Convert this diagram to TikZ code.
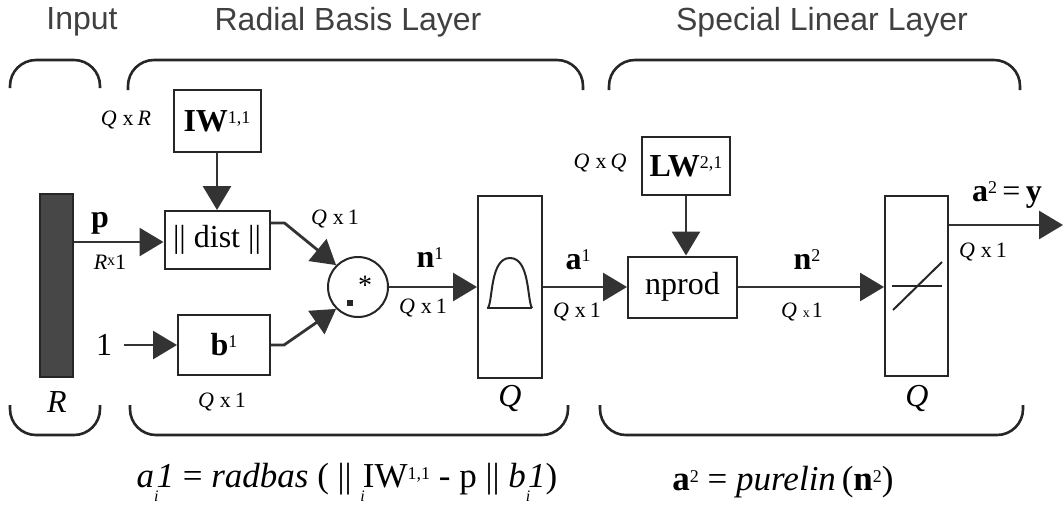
\documentclass[tikz,border=0pt]{standalone}
\usepackage{fontspec}
\setmainfont{Liberation Serif}
\newfontfamily\hdfont{Liberation Sans}
\usetikzlibrary{arrows.meta,calc}
\newcommand\mysup[1]{\raisebox{4pt}{\fontsize{9pt}{9pt}\selectfont #1}}
\newcommand\mysub[1]{\raisebox{-7pt}{\fontsize{8pt}{8pt}\selectfont\textit{#1}}}
\newcommand\dimlab[2]{\textit{#1}\hspace{3pt}x\hspace{2pt}#2}
\begin{document}
\begin{tikzpicture}[x=0.5pt,y=-0.5pt,
  ink/.style={draw=black!85},
  box/.style={draw=black!85,line width=1pt,inner sep=0pt,font=\fontsize{16pt}{16pt}\selectfont},
  arr/.style={draw=black!85,line width=1.4pt,-{Triangle[length=12pt,width=14pt]},color=black!80},
  lbl/.style={font=\fontsize{11pt}{11pt}\selectfont,inner sep=0pt},
  big/.style={font=\fontsize{16pt}{16pt}\selectfont,inner sep=0pt},
  hd/.style={font=\hdfont\fontsize{16pt}{16pt}\selectfont,text=black!75},
  bracestyle/.style={draw=black!85,line width=1.3pt,rounded corners=13pt},
  fml/.style={font=\fontsize{17.5pt}{17.5pt}\selectfont,inner sep=0pt}]
\useasboundingbox (0,0) rectangle (1064,511);

% headings
\node[hd] (hin) at (82,22) {Input};
\node[hd] (hrb) at (348,22) {Radial Basis Layer};
\node[hd] (hsl) at (822,22) {Special Linear Layer};

% braces
\draw[bracestyle] (10,88) -- (10,60) -- (100,60) -- (100,88);
\draw[bracestyle] (128,90) -- (128,60) -- (583,60) -- (583,90);
\draw[bracestyle] (609,90) -- (609,60) -- (1020,60) -- (1020,90);
\draw[bracestyle] (10,405) -- (10,435) -- (100,435) -- (100,405);
\draw[bracestyle] (130,405) -- (130,435) -- (568,435) -- (568,405);
\draw[bracestyle] (600,405) -- (600,435) -- (1023,435) -- (1023,405);

% nodes
\node[box,fill=black!72,minimum width=16.5pt,minimum height=91.5pt] (bar) at (56.5,285.5) {};
\node[box,minimum width=43.5pt,minimum height=31pt] (iw) at (217,121) {\textbf{IW}\mysup{1,1}};
\node[box,minimum width=52.5pt,minimum height=29pt] (dist) at (217,240) {\textbar\textbar\ dist \textbar\textbar};
\node[box,minimum width=46pt,minimum height=30pt] (b) at (224,345) {\textbf{b}\mysup{1}};
\node[draw=black!85,circle,line width=1pt,minimum size=30pt,inner sep=0pt] (circ) at (358,287) {};
\node[box,minimum width=32pt,minimum height=91pt] (rb) at (510,287) {};
\node[box,minimum width=54.5pt,minimum height=30.5pt] (np) at (682.5,287) {nprod};
\node[box,minimum width=44pt,minimum height=29pt] (lw) at (686,166) {\textbf{LW}\mysup{2,1}};
\node[box,minimum width=31.5pt,minimum height=90pt] (lin) at (916.5,286) {};
\node[big] (one) at (104,345) {1};
\coordinate (out) at (1063,225);

% connectors
\draw[arr] (bar.east |- 0,242) -- (dist.west |- 0,242);
\draw[arr] ([xshift=6pt]one.east) -- (b.west);
\draw[arr] (iw.south) -- (dist.north);
\draw[arr] ([yshift=8.5pt]dist.east) -- ++(14,0) -- (circ.135);
\draw[arr] (b.east) -- ++(13,0) -- (circ.225);
\draw[arr] (circ.east) -- (rb.west);
\draw[arr] (rb.east) -- (np.west);
\draw[arr] (lw.south) -- (lw.south |- np.north);
\draw[arr] (np.east) -- (lin.west |- np.east);
\draw[arr] (lin.east |- out) -- (out);

% circle contents
\node[font=\fontsize{14pt}{14pt}\selectfont,inner sep=0pt] (star) at (365,285) {*};
\fill[black!85] (347,300) rectangle (353,306);

% radbas symbol
\draw[ink,line width=1pt] (487,308) -- (532,308);
\draw[ink,line width=1pt] (488,308) .. controls (493,300) and (490,258) .. (510,258) .. controls (530,258) and (527,300) .. (532,308);

% purelin symbol
\draw[ink,line width=1pt] (892,286) -- (942,286);
\draw[ink,line width=1pt] (893,310) -- (942,262);

% labels
\node[lbl] (lqr) at (126,120) {\dimlab{Q}{\textit{R}}};
\node[big] (lp) at (100,223) {\textbf{p}};
\node[lbl] (lr1) at (110,262) {\textit{R}\raisebox{2pt}{\fontsize{8pt}{8pt}\selectfont x}1};
\node[big] (lR) at (57,402) {\textit{R}};
\node[lbl] (lb) at (222,402) {\dimlab{Q}{1}};
\node[lbl] (lc) at (335,219) {\dimlab{Q}{1}};
\node[big] (ln1) at (430,258) {\textbf{n}\mysup{1}};
\node[lbl] (ln1d) at (423,308) {\dimlab{Q}{1}};
\node[big] (lq1) at (510,398) {\textit{Q}};
\node[big] (la1) at (578,260) {\textbf{a}\mysup{1}};
\node[lbl] (la1d) at (577,312) {\dimlab{Q}{1}};
\node[lbl] (lqq) at (600,163) {\dimlab{Q}{\textit{Q}}};
\node[big] (ln2) at (807,260) {\textbf{n}\mysup{2}};
\node[lbl] (ln2d) at (802,312) {\textit{Q}\hspace{3pt}\raisebox{0pt}{\fontsize{7pt}{7pt}\selectfont x}\hspace{1pt}1};
\node[big] (lq2) at (917,398) {\textit{Q}};
\node[big] (la2) at (1007,195) {\textbf{a}\mysup{2}\,=\,\textbf{y}};
\node[lbl] (la2d) at (983,252) {\dimlab{Q}{1}};

% formulas
\node[fml] (f1) at (347,482) {\textit{a}\mysub{i}\kern-1pt\textit{1} = \textit{radbas} ( \textbar\textbar\ \mysub{i}\kern-1pt IW\mysup{1,1} - p \textbar\textbar\ \textit{b}\mysub{i}\kern-1pt\textit{1})};
\node[fml] (f2) at (783,482) {\textbf{a}\mysup{2} = \textit{purelin}\,(\textbf{n}\mysup{2})};
\end{tikzpicture}
\end{document}
